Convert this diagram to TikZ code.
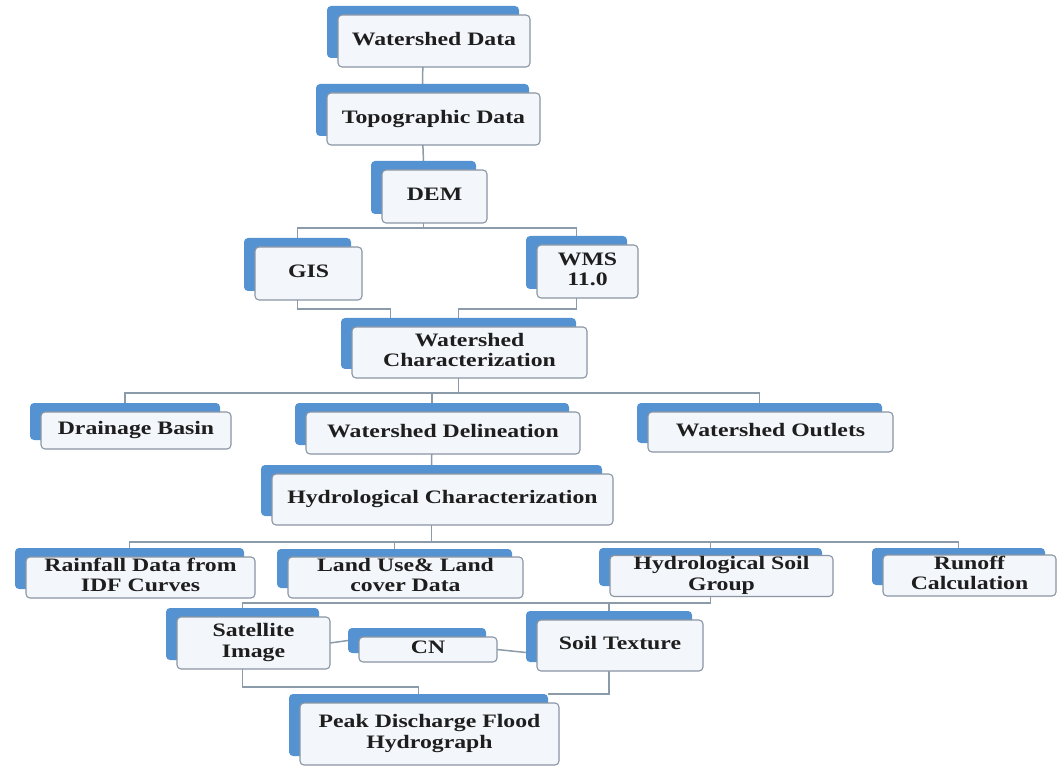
\documentclass[tikz,border=0pt]{standalone}
\usepackage{fontspec}
\setmainfont{Liberation Serif}
\usepackage{graphicx}
\usetikzlibrary{calc,backgrounds}
\definecolor{bblue}{HTML}{5592D2}
\definecolor{fborder}{HTML}{8A96A3}
\definecolor{ffill}{HTML}{F3F6FA}
\definecolor{lnk}{HTML}{8B9BAA}
\definecolor{txt}{HTML}{1E1E1E}
\newcommand{\tx}[1]{\scalebox{1.25}[1]{\begin{tabular}{@{}c@{}}#1\end{tabular}}}
\newcommand{\bx}[6]{%
  \pgfmathsetmacro{\bxcx}{(#2+#4)/2}%
  \pgfmathsetmacro{\bxcy}{(#3+#5)/2}%
  \pgfmathsetmacro{\bxw}{#4-#2}%
  \pgfmathsetmacro{\bxh}{#5-#3}%
  \node[backbox, minimum width=\bxw pt, minimum height=\bxh pt] (#1B) at (\bxcx-11,\bxcy-9) {};%
  \node[frontbox, minimum width=\bxw pt, minimum height=\bxh pt] (#1) at (\bxcx,\bxcy) {\tx{#6}};%
}
\tikzset{
  backbox/.style={fill=bblue, rounded corners=4pt, inner sep=0pt, outer sep=0pt},
  frontbox/.style={fill=ffill, draw=fborder, line width=1.1pt, rounded corners=4pt, inner sep=0pt, outer sep=0pt,
    text=txt, font=\fontsize{19}{20.5}\selectfont\bfseries, align=center},
  conn/.style={draw=lnk, line width=1.5pt}
}
\begin{document}
\begin{tikzpicture}[x=1pt,y=-1pt]
\useasboundingbox (0,0) rectangle (1058,767);
\bx{wd}{338}{15}{530}{67}{Watershed Data}
\bx{topo}{327}{93}{540}{145}{Topographic Data}
\bx{dem}{382}{170}{487}{223}{DEM}
\bx{gis}{255}{247}{362}{300}{GIS}
\bx{wms}{537}{245}{638}{298}{WMS\\11.0}
\bx{wc}{352}{327}{587}{378}{Watershed\\Characterization}
\bx{db}{41}{412}{231}{449}{Drainage Basin}
\bx{wdl}{306}{412}{580}{454}{Watershed Delineation}
\bx{wo}{648}{412}{893}{452}{Watershed Outlets}
\bx{hc}{272}{474}{613}{525}{Hydrological Characterization}
\bx{rf}{26}{557}{255}{598}{Rainfall Data from\\IDF Curves}
\bx{lu}{288}{558}{523}{597}{Land Use\& Land\\cover Data}
\bx{hsg}{610}{557}{833}{595}{Hydrological Soil\\Group}
\bx{ro}{883}{557}{1056}{594}{Runoff\\Calculation}
\bx{sat}{177}{617}{330}{669}{Satellite\\Image}
\bx{cn}{359}{637}{497}{662}{CN}
\bx{st}{537}{620}{703}{671}{Soil Texture}
\bx{pk}{300}{703}{559}{765}{Peak Discharge Flood\\Hydrograph}
\begin{scope}[on background layer]
\fill[white] (0,0) rectangle (1058,767);
\draw[conn] (wdB.south) -- (topoB.north);
\draw[conn] (topoB.south) -- (demB.north);
\draw[conn] (demB.south) -- ++(0,14) -| (gisB.north);
\draw[conn] (demB.south) -- ++(0,14) -| (wmsB.north);
\draw[conn] (gisB.south) -- ++(0,18) -| ($(wcB.north)+(-68,0)$);
\draw[conn] (wmsB.south) -- ++(0,20) -| (wcB.north);
\draw[conn] (wcB.south) -- ++(0,24) -| (dbB.north);
\draw[conn] (wcB.south) -- ++(0,24) -| (wdlB.north);
\draw[conn] (wcB.south) -- ++(0,24) -| (woB.north);
\draw[conn] (wdlB.south) -- (hcB.north);
\draw[conn] (hcB.south) -- ++(0,26) -| (rfB.north);
\draw[conn] (hcB.south) -- ++(0,26) -| (luB.north);
\draw[conn] (hcB.south) -- ++(0,26) -| (hsgB.north);
\draw[conn] (hcB.south) -- ++(0,26) -| (roB.north);
\draw[conn] (hsgB.south) -- ++(0,17) -| (stB.north);
\draw[conn] (hsgB.south) -- ++(0,17) -| (satB.north);
\draw[conn] (sat.east) -- (cnB.west);
\draw[conn] (cn.east) -- ($(stB.west)+(0,16)$);
\draw[conn] (satB.south) |- ($(pkB.north)+(0,-7)$) -- (pkB.north);
\draw[conn] (stB.south) |- (pkB.north east);
\end{scope}
\end{tikzpicture}
\end{document}
